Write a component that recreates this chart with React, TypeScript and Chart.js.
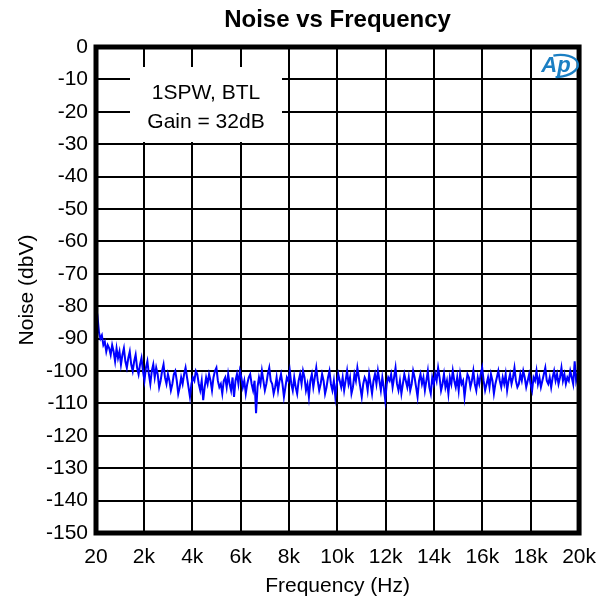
import React, { useEffect, useRef } from "react";
import { Chart, registerables } from "chart.js";

Chart.register(...registerables);

const TITLE = "Noise vs Frequency";
const X_TITLE = "Frequency (Hz)";
const Y_TITLE = "Noise (dbV)";
const NOTE_LINES = ["1SPW, BTL", "Gain = 32dB"];

const X_MIN = 20;
const X_MAX = 20000;
const X_TICKS = [20, 2000, 4000, 6000, 8000, 10000, 12000, 14000, 16000, 18000, 20000];
const X_TICK_LABELS = ["20", "2k", "4k", "6k", "8k", "10k", "12k", "14k", "16k", "18k", "20k"];
const Y_MIN = -150;
const Y_MAX = 0;
const Y_TICKS = [0, -10, -20, -30, -40, -50, -60, -70, -80, -90, -100, -110, -120, -130, -140, -150];

// Noise (dBV), evenly spaced from 20 Hz to 20 kHz
const NOISE_DBV = [
  -80, -83, -88, -90, -89, -92, -91, -94, -92, -93,
  -95, -92, -94, -97, -93, -96, -94, -98, -95, -93,
  -97, -99, -96, -94, -98, -100, -97, -95, -99, -101,
  -98, -96, -100, -103, -99, -97, -101, -104, -100, -98,
  -102, -99, -101, -105, -103, -100, -98, -102, -104, -101,
  -103, -106, -104, -101, -100, -103, -107, -105, -102, -104,
  -101, -99, -102, -105, -108, -104, -102, -103, -100, -101,
  -104, -106, -103, -109, -105, -102, -104, -101, -103, -106,
  -102, -100, -99, -103, -105, -104, -107, -103, -102, -105,
  -101, -104, -106, -102, -108, -103, -101, -104, -100, -102,
  -105, -103, -107, -104, -102, -101, -104, -106, -103, -113,
  -105, -102, -104, -100, -103, -106, -104, -101, -99, -103,
  -104, -107, -105, -102, -106, -103, -101, -104, -108, -105,
  -102, -103, -100, -104, -106, -102, -105, -107, -103, -101,
  -104, -100, -102, -106, -104, -108, -103, -101, -105, -102,
  -99, -103, -106, -104, -101, -103, -107, -105, -102, -100,
  -104, -106, -103, -108, -104, -101, -103, -105, -102, -106,
  -103, -100, -104, -102, -107, -105, -101, -103, -99, -102,
  -105, -108, -104, -102, -103, -106, -101, -104, -107, -103,
  -101, -104, -100, -103, -106, -102, -105, -109, -104, -102,
  -103, -101, -105, -102, -99, -104, -106, -103, -107, -104,
  -101, -103, -105, -102, -106, -104, -100, -102, -105, -108,
  -103, -101, -104, -102, -106, -103, -100, -105, -107, -102,
  -104, -101, -103, -99, -102, -106, -104, -101, -105, -103,
  -107, -102, -104, -100, -103, -105, -102, -106, -101, -104,
  -103, -108, -104, -101, -102, -105, -103, -100, -104, -106,
  -102, -104, -101, -99, -103, -106, -104, -102, -105, -101,
  -103, -107, -104, -102, -100, -103, -105, -102, -104, -101,
  -106, -103, -101, -104, -102, -99, -103, -105, -104, -101,
  -103, -100, -102, -105, -103, -101, -104, -106, -102, -103,
  -100, -104, -102, -105, -103, -101, -99, -103, -104, -102,
  -105, -102, -100, -103, -101, -104, -102, -99, -103, -101,
  -104, -102, -103, -100, -102, -104, -97, -103, -101, -102,
];

const FREQ_HZ = NOISE_DBV.map(
  (_, i) => X_MIN + (i * (X_MAX - X_MIN)) / (NOISE_DBV.length - 1)
);

const FONT = '"Liberation Sans", Arial, sans-serif';
const TRACE_COLOR = "#0000ff";
const LOGO_COLOR = "#1b7fc3";

const decorPlugin = {
  id: "decor",
  beforeDatasetsDraw(chart: any) {
    const { ctx } = chart;
    ctx.save();
    // annotation box
    ctx.fillStyle = "#ffffff";
    ctx.fillRect(122, 59, 152, 75);
    ctx.fillStyle = "#000";
    ctx.font = `21px ${FONT}`;
    ctx.textAlign = "center";
    ctx.textBaseline = "middle";
    ctx.fillText(NOTE_LINES[0], 198, 85);
    ctx.fillText(NOTE_LINES[1], 198, 114);
    ctx.restore();
  },
  afterDatasetsDraw(chart: any) {
    const { ctx, chartArea } = chart;
    const { left, right, top, bottom } = chartArea;
    ctx.save();
    // frame
    ctx.strokeStyle = "#000";
    ctx.lineWidth = 5;
    ctx.strokeRect(left, top, right - left, bottom - top);
    // logo
    ctx.fillStyle = LOGO_COLOR;
    ctx.strokeStyle = LOGO_COLOR;
    ctx.font = `italic bold 22px "Liberation Sans", Arial, sans-serif`;
    ctx.textAlign = "center";
    ctx.textBaseline = "middle";
    ctx.fillText("Ap", 548, 58);
    ctx.lineWidth = 2.2;
    ctx.beginPath();
    ctx.ellipse(550, 58, 20, 11, -0.1, -1.75, 1.75);
    ctx.stroke();
    // titles
    ctx.fillStyle = "#000";
    ctx.font = `bold 24px ${FONT}`;
    ctx.textAlign = "center";
    ctx.textBaseline = "middle";
    ctx.fillText(TITLE, (left + right) / 2, 12);
    ctx.font = `21px ${FONT}`;
    ctx.fillText(X_TITLE, (left + right) / 2, 578);
    ctx.translate(19, (top + bottom) / 2);
    ctx.rotate(-Math.PI / 2);
    ctx.fillText(Y_TITLE, 0, 0);
    ctx.restore();
  },
};

export default function App() {
  const canvasRef = useRef<HTMLCanvasElement | null>(null);

  useEffect(() => {
    const canvas = canvasRef.current;
    if (!canvas) return;
    const chart = new Chart(canvas, {
      type: "line",
      data: {
        datasets: [
          {
            data: FREQ_HZ.map((f, i) => ({ x: f, y: NOISE_DBV[i] })),
            borderColor: TRACE_COLOR,
            borderWidth: 2,
            pointRadius: 0,
            tension: 0,
            fill: false,
          },
        ],
      },
      options: {
        responsive: false,
        animation: false,
        devicePixelRatio: 1,
        layout: { padding: { top: 39, right: 25, left: 0, bottom: 0 } },
        plugins: {
          legend: { display: false },
          title: { display: false },
          tooltip: { enabled: false },
        },
        scales: {
          x: {
            type: "linear",
            min: X_MIN,
            max: X_MAX,
            afterBuildTicks: (s: any) => {
              s.ticks = X_TICKS.map((v) => ({ value: v }));
            },
            afterFit: (s: any) => {
              s.height = 65;
            },
            grid: { color: "#000", lineWidth: 2, drawTicks: false },
            border: { display: false },
            ticks: {
              color: "#000",
              padding: 12,
              maxRotation: 0,
              autoSkip: false,
              font: { family: FONT, size: 21 },
              callback: (v: any) => X_TICK_LABELS[X_TICKS.indexOf(Number(v))],
            },
          },
          y: {
            type: "linear",
            min: Y_MIN,
            max: Y_MAX,
            afterBuildTicks: (s: any) => {
              s.ticks = Y_TICKS.map((v) => ({ value: v }));
            },
            afterFit: (s: any) => {
              s.width = 88;
            },
            grid: { color: "#000", lineWidth: 2, drawTicks: false },
            border: { display: false },
            ticks: {
              color: "#000",
              padding: 8,
              autoSkip: false,
              font: { family: FONT, size: 21 },
              callback: (v: any) => String(v),
            },
          },
        },
      },
      plugins: [decorPlugin],
    });
    return () => chart.destroy();
  }, []);

  return (
    <canvas
      ref={canvasRef}
      width={600}
      height={590}
      style={{ display: "block", width: 600, height: 590 }}
    />
  );
}
